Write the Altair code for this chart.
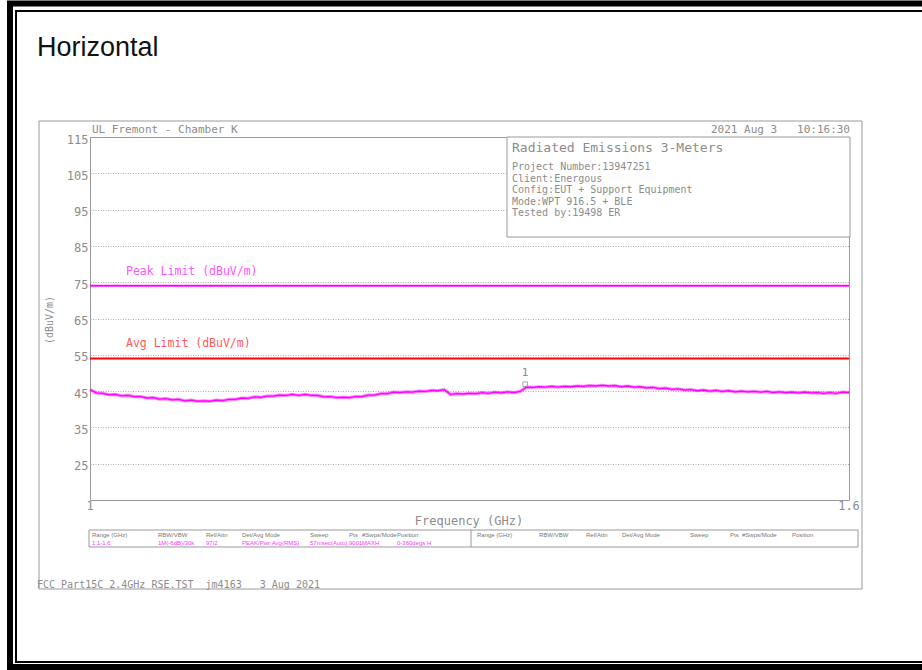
import altair as alt
import pandas as pd

# ---- sweep data (1-1.6 GHz, dBuV/m) ----
freq_ghz = [round(1.0 + 0.005 * i, 3) for i in range(121)]
level_dbuv = [
    45.4, 44.5, 44.4, 44.0, 44.1, 43.7, 43.8, 43.5, 43.5, 43.1,
    43.2, 42.8, 42.9, 42.6, 42.7, 42.3, 42.5, 42.2, 42.3, 42.2,
    42.5, 42.4, 42.7, 42.7, 43.1, 43.0, 43.4, 43.3, 43.6, 43.6,
    43.9, 43.8, 44.1, 43.8, 44.1, 43.8, 43.8, 43.4, 43.5, 43.2,
    43.3, 43.2, 43.5, 43.5, 43.9, 43.9, 44.3, 44.3, 44.7, 44.6,
    44.8, 44.7, 45.0, 44.9, 45.2, 45.1, 45.4, 44.1, 44.3, 44.2,
    44.4, 44.3, 44.6, 44.4, 44.7, 44.5, 44.8, 44.6, 44.9, 46.1,
    46.0, 46.2, 46.1, 46.3, 46.1, 46.3, 46.2, 46.4, 46.3, 46.5,
    46.4, 46.6, 46.4, 46.5, 46.2, 46.4, 46.1, 46.2, 45.9, 46.0,
    45.7, 45.8, 45.5, 45.6, 45.3, 45.4, 45.1, 45.3, 45.0, 45.2,
    44.9, 45.1, 44.8, 45.0, 44.8, 44.9, 44.7, 44.9, 44.6, 44.8,
    44.6, 44.7, 44.5, 44.7, 44.5, 44.6, 44.4, 44.6, 44.4, 44.7,
    44.6,
]

limit_names = ["Peak Limit (dBuV/m)", "Avg Limit (dBuV/m)"]
limit_values = [74, 54]
limit_colors = ["#ff00ff", "#ff0000"]
limit_label_colors = ["#ff55ff", "#ff5a5a"]

marker_freq = [1.344]
marker_level = [46.9]
marker_label = ["1"]

y_ticks = [25, 35, 45, 55, 65, 75, 85, 95, 105, 115]
x_ticks = [1.0, 1.6]

info_title = "Radiated Emissions 3-Meters"
info_lines = [
    "Project Number:13947251",
    "Client:Energous",
    "Config:EUT + Support Equipment",
    "Mode:WPT 916.5 + BLE",
    "Tested by:19498 ER",
]

table_headers = ["Range (GHz)", "RBW/VBW", "Ref/Attn", "Det/Avg Mode",
                 "Sweep", "Pts", "#Swps/Mode", "Position"]
table_values = ["1:1-1.6", "1M(-6dB)/30k", "97/2", "PEAK/Pwr Avg(RMS)",
                "57msec(Auto)", "9001", "MAXH", "0-360degs H"]

NB = "\u00a0"  # keeps runs of spaces in SVG text

# ---- layout (pixels) ----
W, H = 922, 670
OX, OY = 90, 137           # plot-area origin
PW, PH = 759, 363          # plot-area size
MONO = "DejaVu Sans Mono"
SMALL = "Liberation Sans"
GREY = "#8c8c8c"
FRAME = "#9a9a9a"

xs = alt.Scale(domain=[1.0, 1.6], nice=False, zero=False)
ys = alt.Scale(domain=[15, 115], nice=False, zero=False)
dummy = pd.DataFrame({"d": [0]})


def text(s, x, y, size=10, color=GREY, font=MONO, align="left",
         baseline="middle", angle=0, weight="normal"):
    return alt.Chart(dummy).mark_text(
        text=s.replace(" ", NB), font=font, fontSize=size, color=color,
        align=align, baseline=baseline, angle=angle, fontWeight=weight,
    ).encode(x=alt.value(x - OX), y=alt.value(y - OY))


def box(x1, y1, x2, y2, stroke=FRAME, width=1.0, fill=None):
    kw = dict(stroke=stroke, strokeWidth=width)
    if fill:
        kw["fill"] = fill
    else:
        kw["fillOpacity"] = 0
    return alt.Chart(dummy).mark_rect(**kw).encode(
        x=alt.value(x1 - OX), x2=alt.value(x2 - OX),
        y=alt.value(y1 - OY), y2=alt.value(y2 - OY),
    )


def vline(x, y1, y2, color, width):
    return alt.Chart(dummy).mark_rule(color=color, strokeWidth=width).encode(
        x=alt.value(x - OX), y=alt.value(y1 - OY), y2=alt.value(y2 - OY))


trace_df = pd.DataFrame({"freq": freq_ghz, "level": level_dbuv})
limits_df = pd.DataFrame({"name": limit_names, "limit": limit_values,
                          "color": limit_colors, "lcolor": limit_label_colors})
marker_df = pd.DataFrame({"freq": marker_freq, "level": marker_level,
                          "label": marker_label})
tick_df = pd.DataFrame({"freq": x_ticks, "level": [15, 15],
                        "lab": ["1", "1.6"]})

# axis with dotted grid and grey labels
y_axis = alt.Axis(values=y_ticks, grid=True, gridColor="#9a9a9a",
                  gridDash=[1, 1.5], gridWidth=0.8, ticks=False, domain=False,
                  labelFont=MONO, labelFontSize=12, labelColor=GREY,
                  labelPadding=2, labelBaseline="middle", labelOffset=2,
                  title=None)
x_axis = alt.Axis(values=x_ticks, grid=False, ticks=False, domain=False,
                  labels=False, title=None)

grid_layer = alt.Chart(trace_df).mark_line(opacity=0).encode(
    x=alt.X("freq:Q", scale=xs, axis=x_axis),
    y=alt.Y("level:Q", scale=ys, axis=y_axis),
)

trace_band = alt.Chart(trace_df).mark_line(
    color="#ff00ff", strokeWidth=3.2, opacity=0.5
).encode(x=alt.X("freq:Q", scale=xs), y=alt.Y("level:Q", scale=ys))
trace_core = alt.Chart(trace_df).mark_line(
    color="#ff00ff", strokeWidth=1.3
).encode(x=alt.X("freq:Q", scale=xs), y=alt.Y("level:Q", scale=ys))

limit_rules = alt.Chart(limits_df).mark_rule(strokeWidth=2).encode(
    y=alt.Y("limit:Q", scale=ys),
    color=alt.Color("color:N", scale=None),
)
limit_text = alt.Chart(limits_df).mark_text(
    font=MONO, fontSize=11.5, align="left", baseline="middle", dy=-14
).encode(
    x=alt.value(126 - OX),
    y=alt.Y("limit:Q", scale=ys),
    text="name:N",
    color=alt.Color("lcolor:N", scale=None),
)

marker_pt = alt.Chart(marker_df).mark_point(
    shape="square", filled=False, color="#888888", size=22, strokeWidth=1
).encode(x=alt.X("freq:Q", scale=xs), y=alt.Y("level:Q", scale=ys))
marker_txt = alt.Chart(marker_df).mark_text(
    font=MONO, fontSize=11, color="#888888", dy=-11, baseline="middle"
).encode(x=alt.X("freq:Q", scale=xs), y=alt.Y("level:Q", scale=ys),
         text="label:N")

x_labels = alt.Chart(tick_df).mark_text(
    font=MONO, fontSize=12, color=GREY, baseline="middle", dy=6
).encode(x=alt.X("freq:Q", scale=xs), y=alt.Y("level:Q", scale=ys),
         text="lab:N")

layers = [
    # page frame
    box(10, 3.5, 925, 667, stroke="#000000", width=6),
    box(16, 11, 930, 662, stroke="#000000", width=2),
    text("Horizontal", 37, 56, size=27, color="#111111",
         font="Liberation Sans", baseline="alphabetic"),
    # instrument plot frame
    box(39, 121, 862, 589),
    grid_layer,
    box(507, OY, 850, 237, fill="#ffffff"),
    limit_rules,
    trace_band,
    trace_core,
    marker_pt,
    marker_txt,
    limit_text,
    x_labels,
    text("UL Fremont - Chamber K", 92, 130, size=11),
    text("2021 Aug 3   10:16:30", 850, 130, size=11, align="right"),
    text(info_title, 512, 148, size=13),
    text("(dBuV/m)", 50, 320, size=10, angle=270, align="center"),
    text("Frequency (GHz)", 469, 521, size=12, align="center"),
    # settings table
    box(89, 530, 858, 547),
    vline(471, 530, 547, FRAME, 1),
    text("FCC Part15C 2.4GHz RSE.TST  jm4163   3 Aug 2021", 37, 585, size=10),
]

for i, line in enumerate(info_lines):
    layers.append(text(line, 512, 167 + i * 11.5, size=10))

left_cols = [92, 158, 206, 242, 310, 349, 362, 397]
right_cols = [477, 539, 586, 622, 690, 730, 742, 792]
for cx, h in zip(left_cols, table_headers):
    layers.append(text(h, cx, 535, size=6, font=SMALL, color="#777777"))
for cx, v in zip(left_cols, table_values):
    layers.append(text(v, cx, 542.5, size=6, font=SMALL, color="#ff33ff"))
for cx, h in zip(right_cols, table_headers):
    layers.append(text(h, cx, 535, size=6, font=SMALL, color="#777777"))

chart = alt.layer(*layers).properties(
    width=PW, height=PH,
    autosize=alt.AutoSizeParams(type="none"),
    padding={"left": OX, "top": OY, "right": W - OX - PW, "bottom": H - OY - PH},
    background="#ffffff",
).configure_view(stroke=FRAME, strokeWidth=1)

chart.save("out.html", embed_options={"renderer": "svg", "actions": False})
